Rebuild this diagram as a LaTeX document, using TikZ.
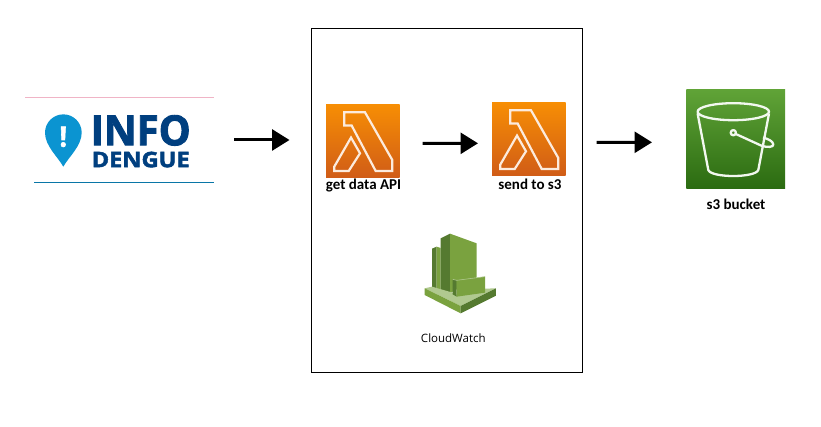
\documentclass[tikz,border=0pt]{standalone}
\usepackage{fontspec}
\setmainfont{Carlito}
\newfontfamily\cwfont{Open Sans}
\newfontfamily\logofont[BoldFeatures={FakeBold=2.2}]{Open Sans}
\usetikzlibrary{arrows.meta}
\definecolor{lamTop}{HTML}{F78E04}
\definecolor{lamBot}{HTML}{D05C17}
\definecolor{lamLine}{HTML}{FCEBDD}
\definecolor{sTop}{HTML}{60A337}
\definecolor{sBot}{HTML}{2B6B11}
\definecolor{logoNavy}{HTML}{003F7F}
\definecolor{logoBlue}{HTML}{0B94D1}
\definecolor{cwLight}{HTML}{7AA23F}
\definecolor{cwDark}{HTML}{557A30}
\definecolor{cwPale}{HTML}{B0C98F}
\definecolor{logoPink}{HTML}{F0B4C6}
\tikzset{
  x=1pt,y=-1pt,
  iconbox/.style={minimum width=#1,minimum height=#1,inner sep=0pt,outer sep=0pt},
  lambdaface/.style={iconbox=73.5pt,top color=lamTop,bottom color=lamBot,draw=none},
  bucketface/.style={iconbox=98.7pt,top color=sTop,bottom color=sBot,draw=none},
  flowarrow/.style={-{Triangle[length=17.5pt,width=21pt]},line width=3pt,black},
  caption/.style={inner sep=0pt,font=\fontsize{15}{17}\selectfont\bfseries},
  lamline/.style={draw=lamLine,line width=2.2pt,line join=miter},
  bucketline/.style={draw=white!92!sTop,line width=2.3pt,line join=round},
  lambdaicon/.pic={
    \draw[lamline] (18.3,8)--(39,8)--(66.3,55.7)--(66.3,66.7)--(49.7,66.7)--(25.7,21.3)--(18.3,21.3)--cycle;
    \draw[lamline] (25,33.3)--(34,49)--(22.7,66.7)--(8.3,66.7)--(8.3,62.3)--cycle;
  }
}
\begin{document}
\begin{tikzpicture}
\useasboundingbox (0,0) rectangle (821,427);
\fill[white] (0,0) rectangle (821,427);
% containing frame
\node[draw=black,line width=1pt,inner sep=0pt,outer sep=0pt,minimum width=271pt,minimum height=344pt,anchor=north west] (frame) at (311.5,28.5) {};
% logo
\node[minimum width=189pt,minimum height=85pt,inner sep=0pt,outer sep=0pt] (logo) at (119.5,140) {};
\draw[draw=logoPink,line width=1.6pt] (logo.west|-0,97.5) -- (logo.east|-0,97.5);
\draw[draw=logoBlue!80!black,line width=1pt] (34,182.5) -- (logo.east|-0,182.5);
\fill[logoBlue] (63.3,166.7) .. controls (58,157) and (45,146) .. (45,132.7)
  arc[start angle=180,end angle=0,x radius=18.35,y radius=-18.35]
  .. controls (81.7,146) and (68.6,157) .. (63.3,166.7) -- cycle;
\node[inner sep=0pt,white] (mark) at (63.3,136.8) {\resizebox{7.5pt}{20pt}{\logofont\bfseries !}};
\node[inner sep=0pt,anchor=north west,logoNavy] (info) at (90.5,115) {\resizebox{100pt}{30pt}{\logofont\bfseries INFO}};
\node[inner sep=0pt,anchor=north west,logoNavy] (dengue) at (91.5,151.5) {\resizebox{98pt}{15.5pt}{\logofont\bfseries DENGUE}};
% lambda icons
\node[lambdaface,anchor=north west] (lamA) at (326,104.3) {};
\pic at (lamA.north west) {lambdaicon};
\node[lambdaface,anchor=north west] (lamB) at (492,102.3) {};
\pic at (lamB.north west) {lambdaicon};
\node[caption] (lamAcap) at (363.5,186) {get data API};
\node[caption] (lamBcap) at (530,184) {send to s3};
% cloudwatch
\node[iconbox=72pt] (cw) at (460.5,272) {};
\begin{scope}[shift={(420,230)},x=0.3333pt,y=-0.3333pt]
  \fill[cwDark] (36,56)--(50,50)--(50,188)--(36,182)--cycle;
  \fill[cwLight] (50,50)--(62,54)--(62,190)--(50,188)--cycle;
  \fill[cwDark] (62,25)--(90,11)--(90,190)--(62,190)--cycle;
  \fill[cwLight] (90,11)--(170,40)--(170,142)--(90,190)--cycle;
  \fill[cwPale] (14,175)--(36,170)--(98,188)--(118,198)--(195,176)--(228,175)--(122,228)--cycle;
  \fill[cwLight] (14,175)--(14,195)--(122,250)--(122,228)--cycle;
  \fill[cwDark] (228,175)--(228,197)--(122,250)--(122,228)--cycle;
  \fill[cwDark] (98,148)--(110,151)--(110,200)--(98,193)--cycle;
  \fill[cwLight] (110,151)--(195,140)--(195,188)--(110,200)--cycle;
  \draw[cwPale,line width=0.6pt] (98,148)--(110,151)--(195,140);
\end{scope}
\node[inner sep=0pt,font=\fontsize{11.5}{14}\selectfont\cwfont] (cwcap) at (453.3,338.5) {CloudWatch};
% s3 bucket
\node[bucketface,anchor=north west] (bucket) at (686.3,90) {};
\draw[bucketline] (733.3,111.7) ellipse[x radius=35.7,y radius=8.5];
\draw[bucketline] (697.6,113.5) -- (708.3,170) .. controls (711,178) and (755.5,178) .. (758.3,170) -- (769,113.5);
\draw[bucketline] (733.3,132.7) circle[radius=2.6];
\draw[bucketline] (735.8,134) -- (761,145.5) .. controls (768,148) and (773.5,147) .. (773.3,144.5)
   .. controls (773,141) and (768,139) .. (763,137.5);
\node[caption] (bucketcap) at (736,204) {s3 bucket};
% connectors
\draw[flowarrow,shorten <=20pt,shorten >=36.5pt] (logo.east) -- (lamA.west|-logo.east);
\draw[flowarrow,shorten <=23pt,shorten >=14pt] ([yshift=-2.3pt]lamA.east) -- ([yshift=-4.25pt]lamB.west);
\draw[flowarrow,shorten <=31pt,shorten >=34.3pt] ([yshift=-3.25pt]lamB.east) -- ([yshift=-2.95pt]bucket.west);
\end{tikzpicture}
\end{document}
